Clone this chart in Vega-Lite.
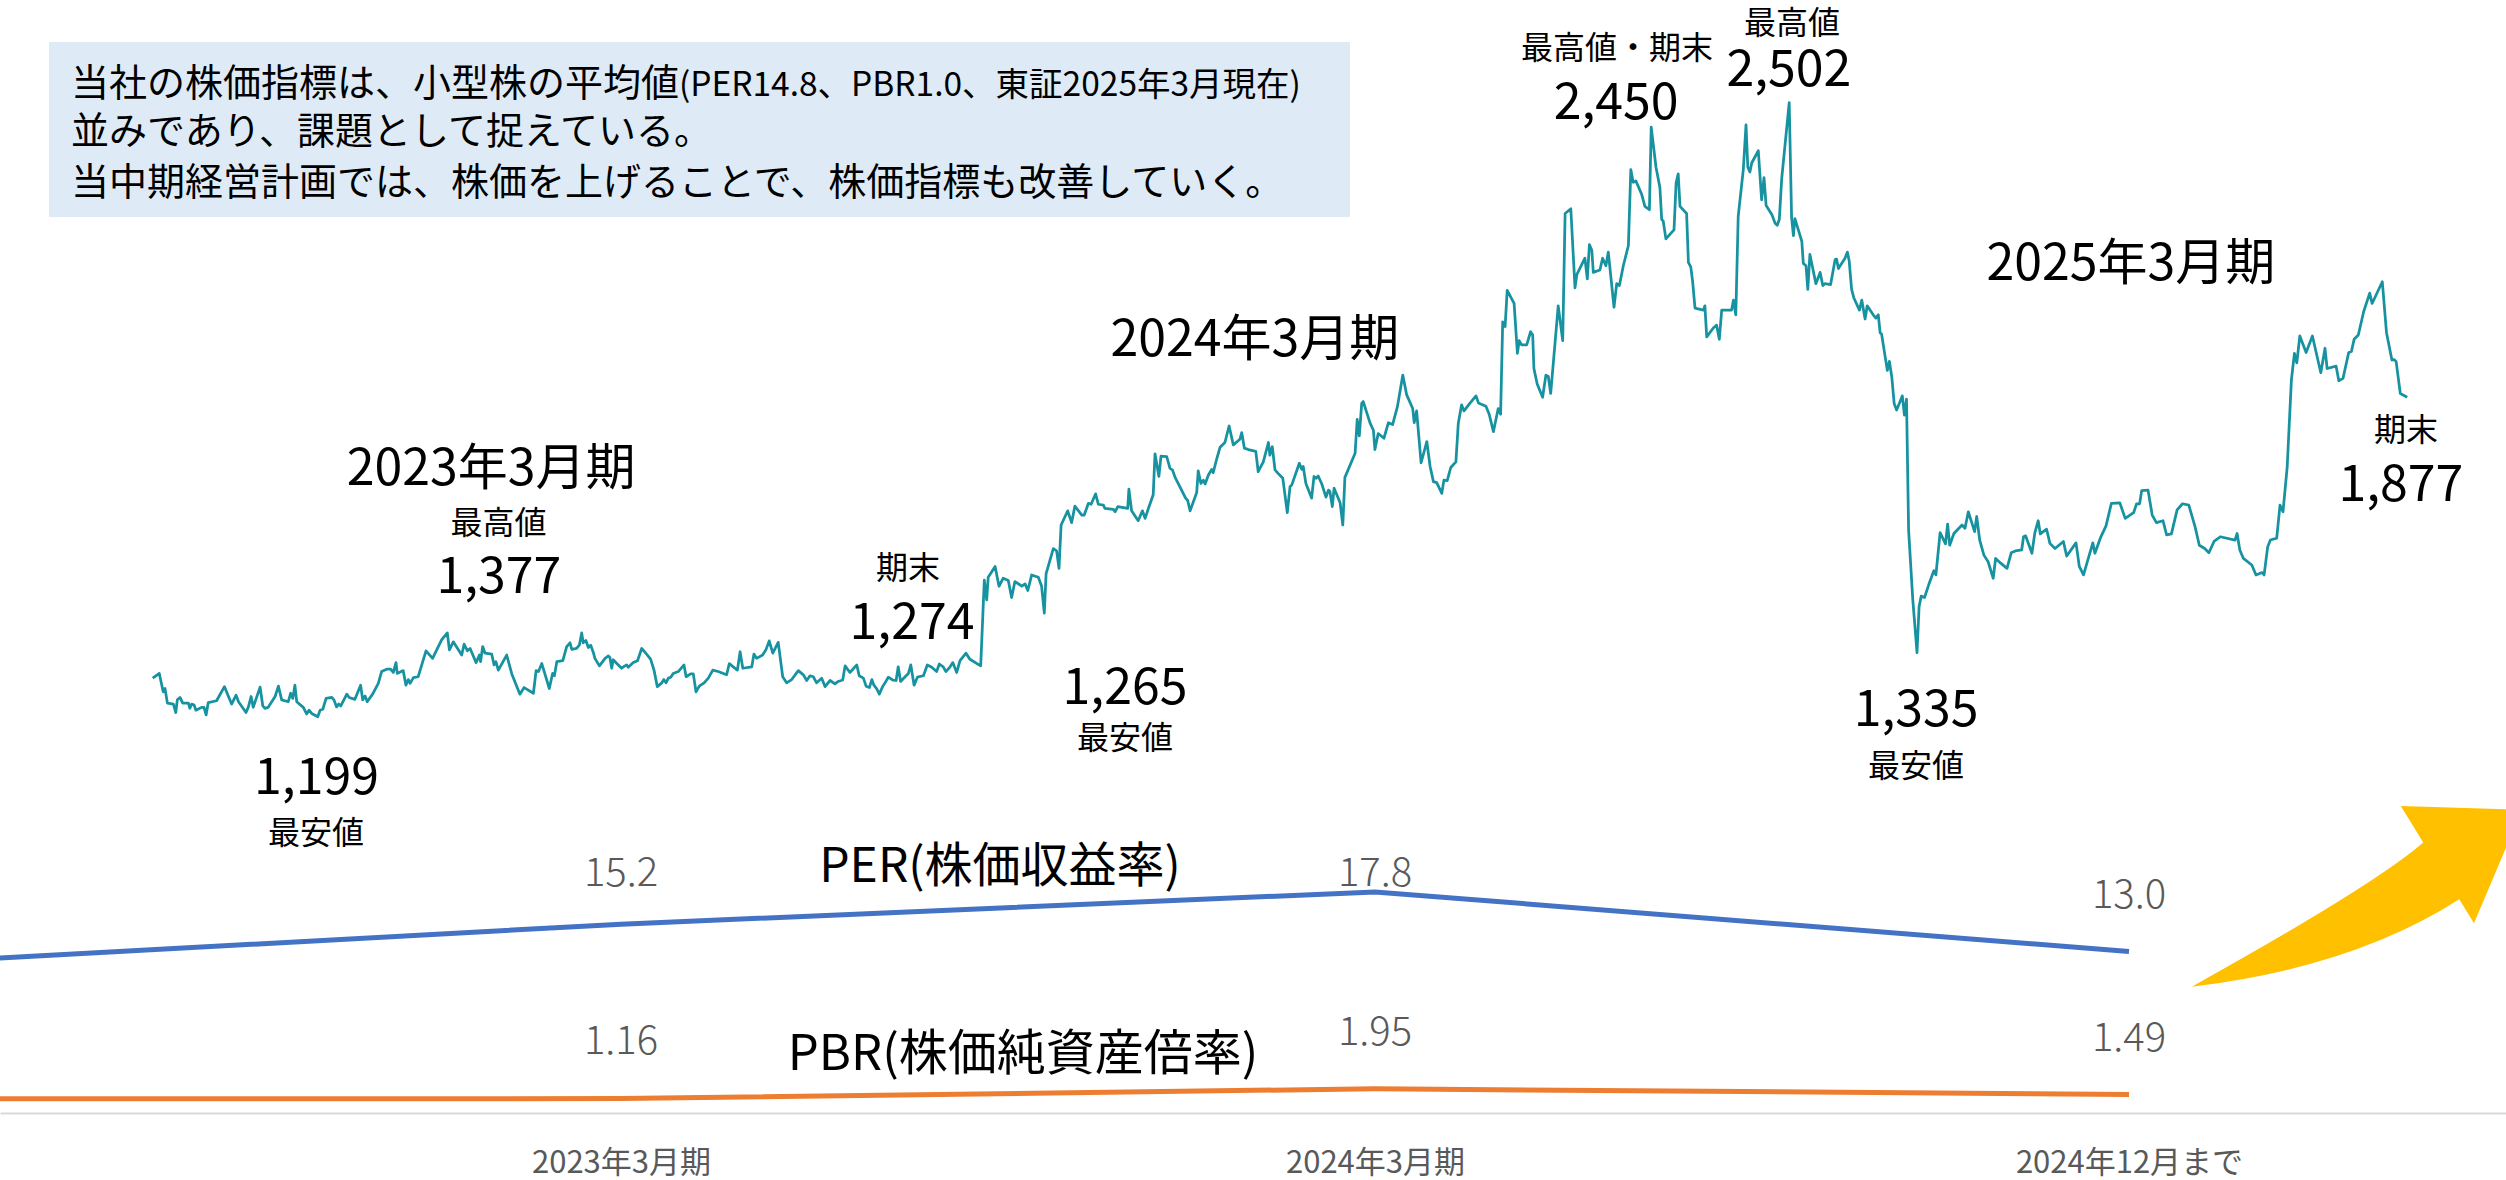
{
"$schema": "https://vega.github.io/schema/vega-lite/v6.json",
"width": 2506, "height": 1113, "padding": 0,
"autosize": {"type": "pad"},
"background": "#ffffff",
"config": {"view": {"stroke": null}, "font": "Noto Sans CJK JP", "text": {"font": "Noto Sans CJK JP"}},
"datasets": {
"price": [
{"day":0.9,"price":1281},{"day":3.1,"price":1291},{"day":4.4,"price":1252},{"day":5.0,"price":1259},{"day":5.8,"price":1228},{"day":7.8,"price":1226},{"day":8.6,"price":1208},{"day":9.1,"price":1235},{"day":10.0,"price":1240},{"day":10.9,"price":1228},{"day":12.8,"price":1228},{"day":13.3,"price":1217},{"day":13.9,"price":1226},{"day":14.7,"price":1224},{"day":15.3,"price":1213},{"day":17.2,"price":1219},{"day":18.0,"price":1219},{"day":18.7,"price":1203},{"day":19.4,"price":1229},{"day":22.2,"price":1233},{"day":24.8,"price":1263},{"day":27.2,"price":1226},{"day":28.7,"price":1245},{"day":29.5,"price":1231},{"day":32.0,"price":1208},{"day":32.8,"price":1220},{"day":33.7,"price":1242},{"day":34.4,"price":1219},{"day":36.7,"price":1262},{"day":37.6,"price":1222},{"day":38.3,"price":1217},{"day":39.4,"price":1219},{"day":41.7,"price":1242},{"day":42.8,"price":1264},{"day":43.9,"price":1235},{"day":46.1,"price":1231},{"day":46.9,"price":1249},{"day":47.6,"price":1238},{"day":48.3,"price":1266},{"day":48.9,"price":1231},{"day":51.1,"price":1219},{"day":52.2,"price":1205},{"day":53.0,"price":1213},{"day":53.9,"price":1206},{"day":55.9,"price":1199},{"day":56.7,"price":1213},{"day":57.6,"price":1215},{"day":58.7,"price":1238},{"day":60.6,"price":1240},{"day":61.3,"price":1235},{"day":62.2,"price":1220},{"day":62.9,"price":1226},{"day":63.6,"price":1222},{"day":65.6,"price":1247},{"day":66.4,"price":1240},{"day":68.3,"price":1236},{"day":70.2,"price":1266},{"day":70.9,"price":1235},{"day":71.7,"price":1243},{"day":72.4,"price":1231},{"day":74.2,"price":1247},{"day":76.1,"price":1270},{"day":77.2,"price":1295},{"day":78.9,"price":1300},{"day":80.2,"price":1300},{"day":81.1,"price":1293},{"day":82.0,"price":1314},{"day":82.4,"price":1291},{"day":84.4,"price":1297},{"day":85.3,"price":1266},{"day":86.1,"price":1278},{"day":86.7,"price":1270},{"day":87.8,"price":1282},{"day":89.4,"price":1284},{"day":92.0,"price":1339},{"day":94.2,"price":1323},{"day":97.2,"price":1362},{"day":99.1,"price":1377},{"day":99.8,"price":1341},{"day":101.1,"price":1358},{"day":103.9,"price":1330},{"day":104.7,"price":1353},{"day":105.8,"price":1339},{"day":106.7,"price":1344},{"day":108.7,"price":1314},{"day":109.8,"price":1330},{"day":110.2,"price":1316},{"day":110.9,"price":1348},{"day":111.7,"price":1334},{"day":113.9,"price":1332},{"day":114.7,"price":1309},{"day":115.3,"price":1316},{"day":116.1,"price":1298},{"day":118.9,"price":1330},{"day":120.6,"price":1290},{"day":123.3,"price":1247},{"day":124.7,"price":1261},{"day":127.8,"price":1249},{"day":128.7,"price":1297},{"day":129.5,"price":1295},{"day":130.6,"price":1312},{"day":133.1,"price":1259},{"day":134.2,"price":1291},{"day":134.8,"price":1286},{"day":135.6,"price":1316},{"day":137.6,"price":1318},{"day":138.9,"price":1348},{"day":140.0,"price":1356},
{"day":140.6,"price":1342},{"day":142.2,"price":1344},{"day":143.1,"price":1351},{"day":143.9,"price":1377},{"day":144.4,"price":1356},{"day":145.3,"price":1361},{"day":146.1,"price":1346},{"day":146.9,"price":1351},{"day":147.8,"price":1335},{"day":148.3,"price":1323},{"day":149.8,"price":1307},{"day":151.7,"price":1323},{"day":152.8,"price":1328},{"day":153.3,"price":1325},{"day":153.9,"price":1302},{"day":154.4,"price":1320},{"day":155.6,"price":1312},{"day":157.2,"price":1302},{"day":158.3,"price":1307},{"day":158.9,"price":1309},{"day":159.4,"price":1304},{"day":161.1,"price":1314},{"day":162.5,"price":1318},{"day":163.9,"price":1344},{"day":165.8,"price":1330},{"day":166.9,"price":1321},{"day":168.0,"price":1298},{"day":169.1,"price":1263},{"day":170.6,"price":1271},{"day":171.3,"price":1278},{"day":172.0,"price":1271},{"day":172.8,"price":1281},{"day":173.6,"price":1283},{"day":174.4,"price":1291},{"day":176.1,"price":1295},{"day":178.0,"price":1309},{"day":178.7,"price":1284},{"day":180.2,"price":1290},{"day":181.1,"price":1290},{"day":182.0,"price":1252},{"day":183.1,"price":1264},{"day":184.7,"price":1271},{"day":186.1,"price":1281},{"day":187.6,"price":1298},{"day":189.4,"price":1295},{"day":192.2,"price":1288},{"day":193.1,"price":1312},{"day":194.4,"price":1305},{"day":195.8,"price":1298},{"day":196.7,"price":1337},{"day":197.6,"price":1302},{"day":200.6,"price":1305},{"day":201.3,"price":1332},{"day":202.2,"price":1323},{"day":204.2,"price":1330},{"day":205.3,"price":1341},{"day":206.4,"price":1360},{"day":207.6,"price":1334},{"day":209.4,"price":1357},{"day":210.9,"price":1284},{"day":212.2,"price":1271},{"day":213.9,"price":1278},{"day":216.1,"price":1297},{"day":217.8,"price":1288},{"day":218.9,"price":1276},{"day":220.0,"price":1286},{"day":221.1,"price":1284},{"day":222.2,"price":1271},{"day":223.9,"price":1281},{"day":225.0,"price":1263},{"day":226.7,"price":1276},{"day":228.3,"price":1269},{"day":229.4,"price":1274},{"day":230.9,"price":1277},{"day":231.7,"price":1307},{"day":233.3,"price":1293},{"day":235.6,"price":1309},{"day":236.4,"price":1286},{"day":237.8,"price":1281},{"day":238.7,"price":1264},{"day":239.8,"price":1261},{"day":240.6,"price":1278},{"day":241.3,"price":1266},{"day":242.2,"price":1259},{"day":243.1,"price":1247},{"day":244.2,"price":1263},{"day":245.3,"price":1274},{"day":246.1,"price":1283},{"day":247.6,"price":1277},{"day":248.7,"price":1276},{"day":249.4,"price":1305},{"day":250.2,"price":1274},{"day":251.7,"price":1284},{"day":252.8,"price":1291},{"day":253.6,"price":1309},{"day":254.7,"price":1266},{"day":255.8,"price":1283},{"day":257.8,"price":1286},{"day":259.1,"price":1309},{"day":260.6,"price":1304},{"day":262.2,"price":1295},{"day":263.1,"price":1311},{"day":264.4,"price":1305},{"day":265.3,"price":1295},{"day":266.7,"price":1305},{"day":267.6,"price":1314},{"day":268.9,"price":1293},{"day":270.0,"price":1318},{"day":272.0,"price":1334},{"day":273.3,"price":1321},{"day":276.9,"price":1307},
{"day":278.1,"price":1489},{"day":278.9,"price":1447},{"day":279.4,"price":1495},{"day":281.7,"price":1518},{"day":283.0,"price":1476},{"day":284.4,"price":1493},{"day":286.1,"price":1488},{"day":287.2,"price":1452},{"day":288.3,"price":1486},{"day":290.6,"price":1476},{"day":291.7,"price":1481},{"day":292.6,"price":1467},{"day":293.9,"price":1500},{"day":296.1,"price":1495},{"day":297.2,"price":1476},{"day":298.1,"price":1419},{"day":298.7,"price":1503},{"day":301.1,"price":1556},{"day":302.2,"price":1551},{"day":303.0,"price":1514},{"day":303.7,"price":1606},{"day":305.9,"price":1636},{"day":307.2,"price":1611},{"day":308.3,"price":1646},{"day":310.6,"price":1627},{"day":311.4,"price":1627},{"day":312.8,"price":1652},{"day":313.7,"price":1650},{"day":315.2,"price":1672},{"day":316.1,"price":1650},{"day":317.8,"price":1648},{"day":318.3,"price":1641},{"day":321.1,"price":1639},{"day":321.7,"price":1634},{"day":322.6,"price":1645},{"day":325.9,"price":1641},{"day":326.3,"price":1682},{"day":327.2,"price":1636},{"day":329.4,"price":1615},{"day":330.8,"price":1636},{"day":331.7,"price":1620},{"day":332.8,"price":1641},{"day":334.4,"price":1670},{"day":335.0,"price":1757},{"day":336.3,"price":1709},{"day":337.0,"price":1752},{"day":338.9,"price":1751},{"day":340.0,"price":1726},{"day":340.8,"price":1723},{"day":341.7,"price":1707},{"day":345.2,"price":1663},{"day":345.9,"price":1658},{"day":346.7,"price":1636},{"day":348.9,"price":1675},{"day":349.4,"price":1721},{"day":350.3,"price":1694},{"day":351.1,"price":1701},{"day":351.7,"price":1693},{"day":352.8,"price":1712},{"day":353.9,"price":1724},{"day":354.4,"price":1717},{"day":355.6,"price":1747},{"day":356.7,"price":1771},{"day":358.3,"price":1781},{"day":359.7,"price":1816},{"day":361.1,"price":1776},{"day":363.3,"price":1788},{"day":363.9,"price":1802},{"day":364.8,"price":1769},{"day":366.1,"price":1766},{"day":368.6,"price":1762},{"day":369.4,"price":1719},{"day":371.1,"price":1740},{"day":372.8,"price":1781},{"day":373.3,"price":1754},{"day":374.1,"price":1772},{"day":375.0,"price":1723},
{"day":376.1,"price":1715},{"day":377.6,"price":1705},{"day":379.1,"price":1632},{"day":380.0,"price":1687},{"day":380.6,"price":1691},{"day":383.1,"price":1737},{"day":383.9,"price":1724},{"day":384.4,"price":1730},{"day":385.3,"price":1694},{"day":387.2,"price":1663},{"day":388.0,"price":1709},{"day":388.7,"price":1705},{"day":389.4,"price":1710},{"day":390.6,"price":1693},{"day":392.0,"price":1665},{"day":392.8,"price":1680},{"day":393.3,"price":1677},{"day":394.1,"price":1645},{"day":394.7,"price":1684},{"day":396.7,"price":1653},{"day":397.6,"price":1606},{"day":398.3,"price":1707},{"day":401.7,"price":1758},{"day":402.4,"price":1830},{"day":403.1,"price":1795},{"day":403.9,"price":1864},{"day":404.4,"price":1868},{"day":406.7,"price":1822},{"day":407.8,"price":1807},{"day":408.3,"price":1766},{"day":409.4,"price":1800},{"day":411.3,"price":1790},{"day":412.8,"price":1823},{"day":414.2,"price":1819},{"day":415.8,"price":1857},{"day":417.6,"price":1924},{"day":418.9,"price":1882},{"day":420.9,"price":1853},{"day":421.4,"price":1823},{"day":422.2,"price":1848},{"day":423.7,"price":1738},{"day":425.6,"price":1783},{"day":426.7,"price":1730},{"day":427.8,"price":1698},{"day":428.9,"price":1696},{"day":430.6,"price":1673},{"day":431.3,"price":1701},{"day":432.4,"price":1700},{"day":433.6,"price":1728},{"day":435.3,"price":1740},{"day":436.1,"price":1822},{"day":437.2,"price":1861},{"day":438.0,"price":1848},{"day":439.8,"price":1863},{"day":442.0,"price":1880},{"day":442.8,"price":1865},{"day":445.3,"price":1858},{"day":446.4,"price":1841},{"day":447.8,"price":1804},{"day":449.4,"price":1853},{"day":450.2,"price":1841},{"day":450.9,"price":2037},{"day":451.7,"price":2027},{"day":452.4,"price":2104},{"day":454.7,"price":2076},{"day":455.8,"price":1970},{"day":456.4,"price":1997},{"day":457.2,"price":1988},{"day":458.9,"price":1988},{"day":460.2,"price":2016},{"day":460.9,"price":2009},{"day":461.3,"price":1938},{"day":462.4,"price":1905},{"day":464.2,"price":1877},{"day":465.3,"price":1924},{"day":466.1,"price":1921},{"day":466.9,"price":1885},{"day":469.4,"price":2071},{"day":470.9,"price":1997},
{"day":471.7,"price":2267},{"day":473.6,"price":2277},{"day":475.0,"price":2109},{"day":475.6,"price":2137},{"day":478.3,"price":2172},{"day":479.1,"price":2128},{"day":479.8,"price":2201},{"day":480.6,"price":2189},{"day":481.1,"price":2142},{"day":483.3,"price":2147},{"day":484.2,"price":2172},{"day":485.3,"price":2156},{"day":486.1,"price":2185},{"day":488.0,"price":2068},{"day":488.9,"price":2118},{"day":489.8,"price":2114},{"day":491.1,"price":2156},{"day":492.8,"price":2199},{"day":493.6,"price":2360},{"day":494.4,"price":2333},{"day":495.3,"price":2336},{"day":497.2,"price":2308},{"day":498.3,"price":2282},{"day":499.8,"price":2275},{"day":500.4,"price":2450},{"day":502.0,"price":2365},{"day":503.3,"price":2322},{"day":503.9,"price":2254},{"day":504.4,"price":2251},{"day":505.3,"price":2213},{"day":506.7,"price":2223},{"day":508.0,"price":2232},{"day":508.7,"price":2332},{"day":509.4,"price":2351},{"day":510.0,"price":2282},{"day":512.2,"price":2267},{"day":512.8,"price":2163},{"day":513.6,"price":2153},{"day":514.2,"price":2123},{"day":515.0,"price":2066},{"day":517.8,"price":2062},{"day":518.3,"price":2071},{"day":518.9,"price":2005},{"day":521.1,"price":2024},{"day":522.2,"price":2030},{"day":523.1,"price":2000},{"day":523.9,"price":2062},{"day":527.2,"price":2062},{"day":527.8,"price":2083},{"day":528.6,"price":2052},{"day":529.4,"price":2261},{"day":531.1,"price":2360},{"day":532.0,"price":2455},{"day":532.6,"price":2365},{"day":533.3,"price":2355},{"day":533.9,"price":2374},{"day":536.1,"price":2400},{"day":537.2,"price":2296},{"day":538.0,"price":2343},{"day":538.7,"price":2284},{"day":540.6,"price":2265},{"day":541.7,"price":2246},{"day":542.4,"price":2242},{"day":543.1,"price":2254},{"day":543.9,"price":2341},{"day":546.4,"price":2502},{"day":547.2,"price":2258},{"day":547.8,"price":2220},{"day":548.3,"price":2256},{"day":550.6,"price":2208},{"day":551.1,"price":2161},{"day":552.0,"price":2156},{"day":552.6,"price":2106},{"day":553.3,"price":2180},{"day":555.3,"price":2118},{"day":556.7,"price":2142},{"day":557.6,"price":2114},{"day":558.3,"price":2118},{"day":560.2,"price":2116},{"day":561.7,"price":2169},{"day":562.2,"price":2170},{"day":562.8,"price":2150},{"day":565.0,"price":2172},{"day":565.8,"price":2185},{"day":566.4,"price":2166},{"day":567.2,"price":2106},{"day":568.0,"price":2087},{"day":569.8,"price":2062},{"day":570.6,"price":2083},{"day":571.7,"price":2043},{"day":572.4,"price":2071},{"day":574.4,"price":2052},{"day":575.3,"price":2045},{"day":576.1,"price":2052},{"day":576.7,"price":2014},{"day":577.2,"price":2011},{"day":579.1,"price":1934},{"day":579.8,"price":1953},{"day":580.6,"price":1920},{"day":581.4,"price":1863},{"day":582.2,"price":1850},{"day":583.3,"price":1867},
{"day":584.1,"price":1880},{"day":584.8,"price":1839},{"day":585.5,"price":1873},{"day":586.2,"price":1595},{"day":587.6,"price":1447},{"day":589.0,"price":1335},{"day":589.7,"price":1433},{"day":590.4,"price":1455},{"day":591.5,"price":1452},{"day":592.9,"price":1479},{"day":594.6,"price":1509},{"day":595.3,"price":1500},{"day":596.7,"price":1590},{"day":598.5,"price":1566},{"day":599.2,"price":1608},{"day":599.9,"price":1563},{"day":601.3,"price":1588},{"day":604.0,"price":1606},{"day":605.0,"price":1599},{"day":606.1,"price":1634},{"day":608.2,"price":1592},{"day":608.9,"price":1624},{"day":609.9,"price":1574},{"day":611.3,"price":1542},{"day":612.7,"price":1528},{"day":614.4,"price":1493},{"day":615.2,"price":1535},{"day":616.9,"price":1525},{"day":619.0,"price":1514},{"day":620.4,"price":1547},{"day":621.8,"price":1551},{"day":623.9,"price":1553},{"day":624.5,"price":1581},{"day":625.2,"price":1583},{"day":627.3,"price":1546},{"day":628.3,"price":1590},{"day":629.4,"price":1615},{"day":630.1,"price":1587},{"day":632.2,"price":1597},{"day":633.3,"price":1567},{"day":635.0,"price":1556},{"day":637.8,"price":1571},{"day":638.9,"price":1540},{"day":642.0,"price":1568},{"day":643.1,"price":1518},{"day":644.5,"price":1500},{"day":647.6,"price":1568},{"day":648.3,"price":1546},{"day":650.1,"price":1578},{"day":652.0,"price":1604},{"day":653.8,"price":1652},{"day":656.6,"price":1653},{"day":658.4,"price":1620},{"day":661.2,"price":1632},{"day":662.2,"price":1651},{"day":663.2,"price":1651},{"day":663.9,"price":1679},{"day":666.0,"price":1680},{"day":667.4,"price":1627},{"day":668.8,"price":1611},{"day":671.0,"price":1615},{"day":672.2,"price":1585},{"day":673.8,"price":1587},{"day":675.7,"price":1638},{"day":677.5,"price":1651},{"day":679.6,"price":1648},{"day":681.7,"price":1602},{"day":683.1,"price":1563},{"day":684.9,"price":1556},{"day":686.3,"price":1547},{"day":688.0,"price":1571},{"day":690.1,"price":1581},{"day":695.0,"price":1574},{"day":695.7,"price":1588},{"day":696.6,"price":1553},{"day":697.8,"price":1535},{"day":700.6,"price":1521},{"day":702.0,"price":1500},{"day":704.0,"price":1505},{"day":704.7,"price":1500},{"day":705.9,"price":1560},{"day":706.8,"price":1574},{"day":708.9,"price":1578},{"day":710.0,"price":1648},{"day":711.0,"price":1634},{"day":712.4,"price":1730},{"day":713.8,"price":1914},{"day":714.8,"price":1970},{"day":715.6,"price":1950},{"day":716.6,"price":2007},{"day":718.7,"price":1972},{"day":720.8,"price":2007},{"day":723.6,"price":1929},{"day":725.0,"price":1981},{"day":725.7,"price":1938},{"day":728.7,"price":1943},{"day":729.6,"price":1912},{"day":731.0,"price":1917},{"day":732.9,"price":1972},{"day":733.8,"price":1974},{"day":734.7,"price":2000},{"day":736.1,"price":2009},{"day":737.9,"price":2059},{"day":739.9,"price":2098},{"day":740.7,"price":2076},{"day":744.1,"price":2122},{"day":745.5,"price":2014},{"day":747.3,"price":1956},{"day":748.0,"price":1957},{"day":748.7,"price":1953},{"day":750.1,"price":1885},{"day":752.4,"price":1877}
],
"ratio": [
{"n":-1,"period":"2022年3月期","PER":11.9,"PBR":1.14},
{"n":0,"period":"2023年3月期","PER":15.2,"PBR":1.16},
{"n":1,"period":"2024年3月期","PER":17.8,"PBR":1.95},
{"n":2,"period":"2024年12月まで","PER":13.0,"PBR":1.49}
]
},
"layer": [
{
"layer": [
{"data": {"values": [{}]}, "mark": {"type": "rect", "color": "#DEEBF7"},
 "encoding": {
  "x": {"datum": -33.67, "type": "quantitative", "scale": {"domain": [-50, 785.33], "nice": false, "zero": false}, "axis": null},
  "x2": {"datum": 400},
  "y": {"datum": 2630.8, "type": "quantitative", "scale": {"domain": [358.3, 2719.9], "nice": false, "zero": false}, "axis": null},
  "y2": {"datum": 2259.5}}},
{"data": {"name": "price"}, "mark": {"type": "line", "color": "#1692A0", "strokeWidth": 2.75, "strokeJoin": "round"},
 "encoding": {
  "x": {"field": "day", "type": "quantitative", "scale": {"domain": [-50, 785.33], "nice": false, "zero": false}, "axis": null},
  "y": {"field": "price", "type": "quantitative", "scale": {"domain": [358.3, 2719.9], "nice": false, "zero": false}, "axis": null}}},
{"data": {"values": [{}]}, "mark": {"type": "text", "fontSize": 38, "color": "#000000", "align": "left", "baseline": "alphabetic"},
 "encoding": {"x": {"datum": -26.33, "type": "quantitative", "axis": null}, "y": {"datum": 2515.4, "type": "quantitative", "axis": null}, "text": {"value": "当社の株価指標は、小型株の平均値"}}},
{"data": {"values": [{}]}, "mark": {"type": "text", "fontSize": 33.5, "color": "#000000", "align": "left", "baseline": "alphabetic"},
 "encoding": {"x": {"datum": 176.33, "type": "quantitative", "axis": null}, "y": {"datum": 2515.4, "type": "quantitative", "axis": null}, "text": {"value": "(PER14.8、PBR1.0、東証2025年3月現在)"}}},
{"data": {"values": [{}]}, "mark": {"type": "text", "fontSize": 38, "color": "#000000", "align": "left", "baseline": "alphabetic"},
 "encoding": {"x": {"datum": -26.33, "type": "quantitative", "axis": null}, "y": {"datum": 2413.5, "type": "quantitative", "axis": null}, "text": {"value": "並みであり、課題として捉えている。"}}},
{"data": {"values": [{}]}, "mark": {"type": "text", "fontSize": 38, "color": "#000000", "align": "left", "baseline": "alphabetic"},
 "encoding": {"x": {"datum": -26.33, "type": "quantitative", "axis": null}, "y": {"datum": 2305.3, "type": "quantitative", "axis": null}, "text": {"value": "当中期経営計画では、株価を上げることで、株価指標も改善していく。"}}},
{"data": {"values": [{}]}, "mark": {"type": "text", "fontSize": 50, "color": "#000000", "baseline": "middle"},
 "encoding": {"x": {"datum": 113.67, "type": "quantitative", "axis": null}, "y": {"datum": 1722.6, "type": "quantitative", "axis": null}, "text": {"value": "2023年3月期"}}},
{"data": {"values": [{}]}, "mark": {"type": "text", "fontSize": 32, "color": "#000000", "baseline": "middle"},
 "encoding": {"x": {"datum": 116.2, "type": "quantitative", "axis": null}, "y": {"datum": 1608, "type": "quantitative", "axis": null}, "text": {"value": "最高値"}}},
{"data": {"values": [{}]}, "mark": {"type": "text", "fontSize": 50, "color": "#000000", "baseline": "middle"},
 "encoding": {"x": {"datum": 116.3, "type": "quantitative", "axis": null}, "y": {"datum": 1494, "type": "quantitative", "axis": null}, "text": {"value": "1,377"}}},
{"data": {"values": [{}]}, "mark": {"type": "text", "fontSize": 50, "color": "#000000", "baseline": "middle"},
 "encoding": {"x": {"datum": 55.5, "type": "quantitative", "axis": null}, "y": {"datum": 1067, "type": "quantitative", "axis": null}, "text": {"value": "1,199"}}},
{"data": {"values": [{}]}, "mark": {"type": "text", "fontSize": 32, "color": "#000000", "baseline": "middle"},
 "encoding": {"x": {"datum": 55.3, "type": "quantitative", "axis": null}, "y": {"datum": 950.3, "type": "quantitative", "axis": null}, "text": {"value": "最安値"}}},
{"data": {"values": [{}]}, "mark": {"type": "text", "fontSize": 32, "color": "#000000", "baseline": "middle"},
 "encoding": {"x": {"datum": 252.67, "type": "quantitative", "axis": null}, "y": {"datum": 1513, "type": "quantitative", "axis": null}, "text": {"value": "期末"}}},
{"data": {"values": [{}]}, "mark": {"type": "text", "fontSize": 50, "color": "#000000", "baseline": "middle"},
 "encoding": {"x": {"datum": 254, "type": "quantitative", "axis": null}, "y": {"datum": 1396, "type": "quantitative", "axis": null}, "text": {"value": "1,274"}}},
{"data": {"values": [{}]}, "mark": {"type": "text", "fontSize": 50, "color": "#000000", "baseline": "middle"},
 "encoding": {"x": {"datum": 325, "type": "quantitative", "axis": null}, "y": {"datum": 1258, "type": "quantitative", "axis": null}, "text": {"value": "1,265"}}},
{"data": {"values": [{}]}, "mark": {"type": "text", "fontSize": 32, "color": "#000000", "baseline": "middle"},
 "encoding": {"x": {"datum": 325, "type": "quantitative", "axis": null}, "y": {"datum": 1151.9, "type": "quantitative", "axis": null}, "text": {"value": "最安値"}}},
{"data": {"values": [{}]}, "mark": {"type": "text", "fontSize": 50, "color": "#000000", "baseline": "middle"},
 "encoding": {"x": {"datum": 368.3, "type": "quantitative", "axis": null}, "y": {"datum": 1996.4, "type": "quantitative", "axis": null}, "text": {"value": "2024年3月期"}}},
{"data": {"values": [{}]}, "mark": {"type": "text", "fontSize": 32, "color": "#000000", "baseline": "middle"},
 "encoding": {"x": {"datum": 489, "type": "quantitative", "axis": null}, "y": {"datum": 2615.9, "type": "quantitative", "axis": null}, "text": {"value": "最高値・期末"}}},
{"data": {"values": [{}]}, "mark": {"type": "text", "fontSize": 50, "color": "#000000", "baseline": "middle"},
 "encoding": {"x": {"datum": 488.7, "type": "quantitative", "axis": null}, "y": {"datum": 2499.2, "type": "quantitative", "axis": null}, "text": {"value": "2,450"}}},
{"data": {"values": [{}]}, "mark": {"type": "text", "fontSize": 32, "color": "#000000", "baseline": "middle"},
 "encoding": {"x": {"datum": 547.3, "type": "quantitative", "axis": null}, "y": {"datum": 2668, "type": "quantitative", "axis": null}, "text": {"value": "最高値"}}},
{"data": {"values": [{}]}, "mark": {"type": "text", "fontSize": 50, "color": "#000000", "baseline": "middle"},
 "encoding": {"x": {"datum": 546.3, "type": "quantitative", "axis": null}, "y": {"datum": 2570, "type": "quantitative", "axis": null}, "text": {"value": "2,502"}}},
{"data": {"values": [{}]}, "mark": {"type": "text", "fontSize": 50, "color": "#000000", "baseline": "middle"},
 "encoding": {"x": {"datum": 660.3, "type": "quantitative", "axis": null}, "y": {"datum": 2157.6, "type": "quantitative", "axis": null}, "text": {"value": "2025年3月期"}}},
{"data": {"values": [{}]}, "mark": {"type": "text", "fontSize": 32, "color": "#000000", "baseline": "middle"},
 "encoding": {"x": {"datum": 752, "type": "quantitative", "axis": null}, "y": {"datum": 1806, "type": "quantitative", "axis": null}, "text": {"value": "期末"}}},
{"data": {"values": [{}]}, "mark": {"type": "text", "fontSize": 50, "color": "#000000", "baseline": "middle"},
 "encoding": {"x": {"datum": 750.3, "type": "quantitative", "axis": null}, "y": {"datum": 1688, "type": "quantitative", "axis": null}, "text": {"value": "1,877"}}},
{"data": {"values": [{}]}, "mark": {"type": "text", "fontSize": 50, "color": "#000000", "baseline": "middle"},
 "encoding": {"x": {"datum": 588.7, "type": "quantitative", "axis": null}, "y": {"datum": 1211.3, "type": "quantitative", "axis": null}, "text": {"value": "1,335"}}},
{"data": {"values": [{}]}, "mark": {"type": "text", "fontSize": 32, "color": "#000000", "baseline": "middle"},
 "encoding": {"x": {"datum": 588.7, "type": "quantitative", "axis": null}, "y": {"datum": 1092.5, "type": "quantitative", "axis": null}, "text": {"value": "最安値"}}}
]
},
{
"layer": [
{"data": {"name": "ratio"}, "mark": {"type": "line", "color": "#4472C4", "strokeWidth": 5, "clip": true},
 "encoding": {
  "x": {"field": "n", "type": "quantitative", "scale": {"domain": [-0.8236, 2.5], "nice": false, "zero": false},
   "axis": {"values": [0, 1, 2], "labelExpr": "datum.value == 0 ? '2023年3月期' : datum.value == 1 ? '2024年3月期' : '2024年12月まで'", "title": null, "grid": false, "ticks": false, "tickSize": 0, "domainColor": "#D9D9D9", "domainWidth": 2, "labelFontSize": 31, "labelColor": "#595959", "labelFont": "Noto Sans CJK JP", "labelPadding": 35, "labelFlush": false, "labelOverlap": false, "labelLimit": 0}},
  "y": {"field": "PER", "type": "quantitative", "scale": {"domain": [0, 89.6], "nice": false}, "axis": null}}},
{"data": {"name": "ratio"}, "mark": {"type": "line", "color": "#ED7D31", "strokeWidth": 5, "clip": true},
 "encoding": {
  "x": {"field": "n", "type": "quantitative"},
  "y": {"field": "PBR", "type": "quantitative", "axis": null}}},
{"data": {"values": [{}]}, "mark": {"type": "point", "shape": "M-1,0.546 Q0.1,-0.065 0.401,-0.326 L0.265,-0.548 L0.999,-0.524 L0.708,0.162 L0.619,0.017 Q-0.021,0.4285 -1,0.546 Z", "filled": true, "color": "#FFC000", "opacity": 1, "size": 109167, "strokeWidth": 0},
 "encoding": {"x": {"datum": 2.3024, "type": "quantitative"}, "y": {"datum": 17.432, "type": "quantitative", "axis": null}}},
{"data": {"values": [{}]}, "mark": {"type": "text", "fontSize": 40, "fontWeight": 300, "color": "#595959", "baseline": "middle"},
 "encoding": {"x": {"datum": 0, "type": "quantitative"}, "y": {"datum": 19.24, "type": "quantitative", "axis": null}, "text": {"value": "15.2"}}},
{"data": {"values": [{}]}, "mark": {"type": "text", "fontSize": 40, "fontWeight": 300, "color": "#595959", "baseline": "middle"},
 "encoding": {"x": {"datum": 1, "type": "quantitative"}, "y": {"datum": 19.24, "type": "quantitative", "axis": null}, "text": {"value": "17.8"}}},
{"data": {"values": [{}]}, "mark": {"type": "text", "fontSize": 40, "fontWeight": 300, "color": "#595959", "baseline": "middle"},
 "encoding": {"x": {"datum": 2, "type": "quantitative"}, "y": {"datum": 17.47, "type": "quantitative", "axis": null}, "text": {"value": "13.0"}}},
{"data": {"values": [{}]}, "mark": {"type": "text", "fontSize": 40, "fontWeight": 300, "color": "#595959", "baseline": "middle"},
 "encoding": {"x": {"datum": 0, "type": "quantitative"}, "y": {"datum": 5.72, "type": "quantitative", "axis": null}, "text": {"value": "1.16"}}},
{"data": {"values": [{}]}, "mark": {"type": "text", "fontSize": 40, "fontWeight": 300, "color": "#595959", "baseline": "middle"},
 "encoding": {"x": {"datum": 1, "type": "quantitative"}, "y": {"datum": 6.44, "type": "quantitative", "axis": null}, "text": {"value": "1.95"}}},
{"data": {"values": [{}]}, "mark": {"type": "text", "fontSize": 40, "fontWeight": 300, "color": "#595959", "baseline": "middle"},
 "encoding": {"x": {"datum": 2, "type": "quantitative"}, "y": {"datum": 5.96, "type": "quantitative", "axis": null}, "text": {"value": "1.49"}}},
{"data": {"values": [{}]}, "mark": {"type": "text", "fontSize": 48, "color": "#000000", "baseline": "middle"},
 "encoding": {"x": {"datum": 0.5027, "type": "quantitative"}, "y": {"datum": 19.73, "type": "quantitative", "axis": null}, "text": {"value": "PER(株価収益率)"}}},
{"data": {"values": [{}]}, "mark": {"type": "text", "fontSize": 49, "color": "#000000", "baseline": "middle"},
 "encoding": {"x": {"datum": 0.5332, "type": "quantitative"}, "y": {"datum": 4.67, "type": "quantitative", "axis": null}, "text": {"value": "PBR(株価純資産倍率)"}}}
]
}
],
"resolve": {"scale": {"x": "independent", "y": "independent"}}
}
